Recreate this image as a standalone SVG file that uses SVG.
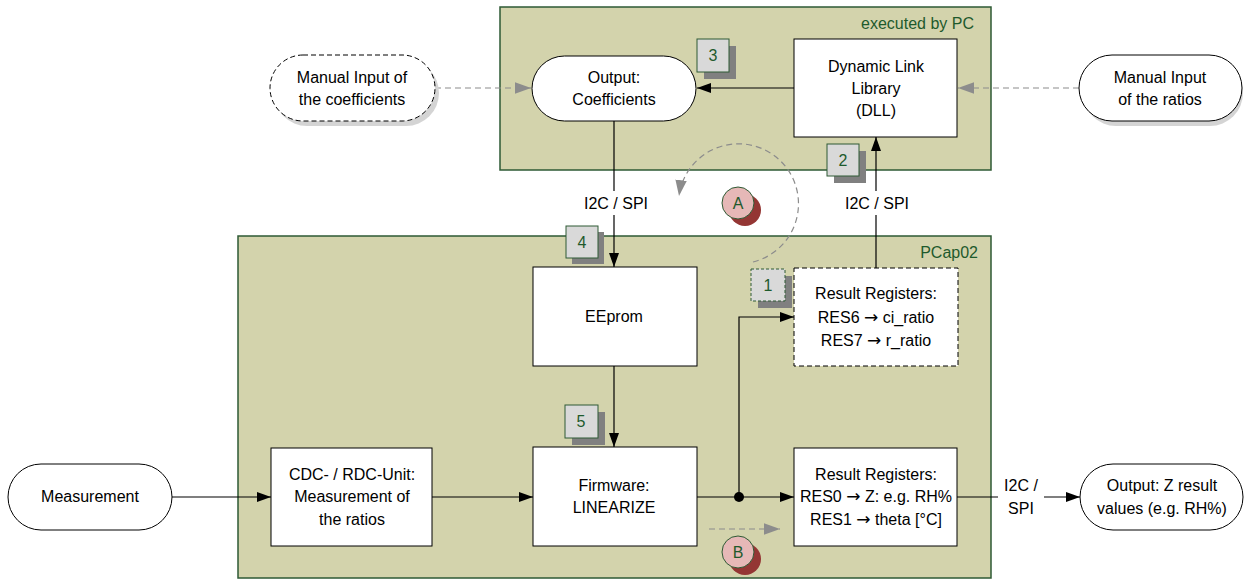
<svg xmlns="http://www.w3.org/2000/svg" width="1245" height="580" viewBox="0 0 1245 580">
<style>
text{font-family:"Liberation Sans",Arial,sans-serif;font-size:16px;fill:#000;text-anchor:middle}
.arr{font-family:"DejaVu Sans",sans-serif;font-size:17px}
.cont{fill:#d3d3ac;stroke:#2e5a34;stroke-width:1.5}
.ctitle{fill:#1e5a2c;text-anchor:end;font-size:16px}
.box{fill:#fff;stroke:#000;stroke-width:1}
.dbox{fill:#fff;stroke:#000;stroke-width:1;stroke-dasharray:5,3}
.pshadow{fill:#d4d4d4}
.badge{fill:#d9d9d9;stroke:#2e5a34;stroke-width:1}
.bshadow{fill:#808080}
.btxt{fill:#1e5a2c;font-size:16px}
.circ{fill:#e6b8b7;stroke:#2e5a34;stroke-width:1}
.cshadow{fill:#943634}
.line{fill:none;stroke:#000;stroke-width:1.2}
.gline{fill:none;stroke:#8c8c8c;stroke-width:1.2;stroke-dasharray:6,4}
</style>
<defs>
<marker id="ab" viewBox="0 0 14 10" refX="14" refY="5" markerWidth="14" markerHeight="10" markerUnits="userSpaceOnUse" orient="auto"><path d="M0,0 L14,5 L0,10 Z" fill="#000"/></marker>
<marker id="ag" viewBox="0 0 14 10" refX="14" refY="5" markerWidth="16" markerHeight="12" markerUnits="userSpaceOnUse" orient="auto"><path d="M0,0 L14,5 L0,10 Z" fill="#8c8c8c"/></marker>
</defs>

<g id="container-pc">
<rect class="cont" x="500" y="7" width="491" height="163"/>
<text class="ctitle" x="974" y="29">executed by PC</text>
</g>
<g id="container-pcap02">
<rect class="cont" x="238" y="236" width="753" height="342"/>
<text class="ctitle" x="978" y="258">PCap02</text>
</g>

<g id="connectors">
<line class="gline" x1="435" y1="88" x2="531" y2="88" marker-end="url(#ag)"/>
<line class="gline" x1="1079" y1="88" x2="958" y2="88" marker-end="url(#ag)"/>
<line class="line" x1="794" y1="88" x2="697" y2="88" marker-end="url(#ab)"/>
<line class="line" x1="614" y1="121" x2="614" y2="267" marker-end="url(#ab)"/>
<line class="line" x1="876" y1="268" x2="876" y2="137" marker-end="url(#ab)"/>
<line class="line" x1="614" y1="366" x2="614" y2="447" marker-end="url(#ab)"/>
<line class="line" x1="172" y1="497" x2="271" y2="497" marker-end="url(#ab)"/>
<line class="line" x1="432" y1="497" x2="533" y2="497" marker-end="url(#ab)"/>
<line class="line" x1="697" y1="497" x2="794" y2="497" marker-end="url(#ab)"/>
<polyline class="line" points="739,497 739,317 794,317" marker-end="url(#ab)"/>
<circle cx="739" cy="497" r="5" fill="#000"/>
<line class="line" x1="957" y1="497" x2="1080" y2="497" marker-end="url(#ab)"/>
<path class="gline" d="M753,262 A60,60 0 1 0 679,196" marker-end="url(#ag)"/>
<line class="gline" x1="709" y1="529" x2="780" y2="529" marker-end="url(#ag)"/>
<rect x="576" y="191" width="80" height="24" fill="#fff"/>
<text x="616" y="209">I2C / SPI</text>
<rect x="838" y="191" width="80" height="24" fill="#fff"/>
<text x="877" y="209">I2C / SPI</text>
<rect x="998" y="474" width="46" height="44" fill="#fff"/>
<text x="1021" y="491">I2C /</text>
<text x="1021" y="514">SPI</text>
</g>

<g id="node-manual-coeff">
<rect class="pshadow" x="274" y="60" width="165" height="66" rx="33"/>
<rect class="dbox" x="270" y="55" width="165" height="66" rx="33"/>
<text x="352" y="83">Manual Input of</text>
<text x="352" y="105">the coefficients</text>
</g>
<g id="node-manual-ratios">
<rect class="pshadow" x="1083" y="60" width="160" height="66" rx="33"/>
<rect class="box" x="1079" y="55" width="163" height="66" rx="33"/>
<text x="1160" y="83">Manual Input</text>
<text x="1160" y="105">of the ratios</text>
</g>
<g id="node-output-coeff">
<rect class="box" x="532" y="56" width="164" height="65" rx="32.5"/>
<text x="614" y="83">Output:</text>
<text x="614" y="105">Coefficients</text>
</g>
<g id="node-dll">
<rect class="box" x="794" y="39" width="163" height="98"/>
<text x="876" y="72">Dynamic Link</text>
<text x="876" y="94">Library</text>
<text x="876" y="116">(DLL)</text>
</g>
<g id="node-eeprom">
<rect class="box" x="533" y="267" width="164" height="99"/>
<text x="614" y="322">EEprom</text>
</g>
<g id="node-res67">
<rect class="dbox" x="794" y="268" width="164" height="98"/>
<text x="876" y="299">Result Registers:</text>
<text x="876" y="323">RES6 <tspan class="arr">→</tspan> ci_ratio</text>
<text x="876" y="346">RES7 <tspan class="arr">→</tspan> r_ratio</text>
</g>
<g id="node-measurement">
<rect class="box" x="8" y="464" width="164" height="66" rx="33"/>
<text x="90" y="502">Measurement</text>
</g>
<g id="node-cdc">
<rect class="box" x="271" y="448" width="161" height="98"/>
<text x="352" y="480">CDC- / RDC-Unit:</text>
<text x="352" y="502">Measurement of</text>
<text x="352" y="525">the ratios</text>
</g>
<g id="node-firmware">
<rect class="box" x="533" y="447" width="164" height="99"/>
<text x="614" y="491">Firmware:</text>
<text x="614" y="513">LINEARIZE</text>
</g>
<g id="node-res01">
<rect class="box" x="794" y="448" width="163" height="98"/>
<text x="876" y="480">Result Registers:</text>
<text x="876" y="502">RES0 <tspan class="arr">→</tspan> Z: e.g. RH%</text>
<text x="876" y="525">RES1 <tspan class="arr">→</tspan> theta [°C]</text>
</g>
<g id="node-output-z">
<rect class="box" x="1080" y="464" width="163" height="66" rx="33"/>
<text x="1162" y="491">Output: Z result</text>
<text x="1162" y="514">values (e.g. RH%)</text>
</g>

<g id="badge-1">
<rect class="bshadow" x="758" y="276" width="34" height="32"/>
<rect class="badge" x="751" y="269" width="34" height="32" stroke-dasharray="3,2"/>
<text class="btxt" x="768" y="291">1</text>
</g>
<g id="badge-2">
<rect class="bshadow" x="834" y="151" width="32" height="32"/>
<rect class="badge" x="827" y="144" width="32" height="32"/>
<text class="btxt" x="843" y="166">2</text>
</g>
<g id="badge-3">
<rect class="bshadow" x="704" y="46" width="32" height="33"/>
<rect class="badge" x="697" y="39" width="32" height="33"/>
<text class="btxt" x="713" y="61">3</text>
</g>
<g id="badge-4">
<rect class="bshadow" x="572" y="232" width="32" height="32"/>
<rect class="badge" x="566" y="226" width="32" height="32"/>
<text class="btxt" x="582" y="248">4</text>
</g>
<g id="badge-5">
<rect class="bshadow" x="572" y="412" width="33" height="33"/>
<rect class="badge" x="565" y="405" width="33" height="33"/>
<text class="btxt" x="581" y="427">5</text>
</g>
<g id="marker-a">
<circle class="cshadow" cx="745" cy="210" r="16"/>
<circle class="circ" cx="738" cy="203" r="16"/>
<text class="btxt" x="738" y="209">A</text>
</g>
<g id="marker-b">
<circle class="cshadow" cx="745" cy="559" r="16"/>
<circle class="circ" cx="738" cy="552" r="16"/>
<text class="btxt" x="738" y="558">B</text>
</g>
</svg>
